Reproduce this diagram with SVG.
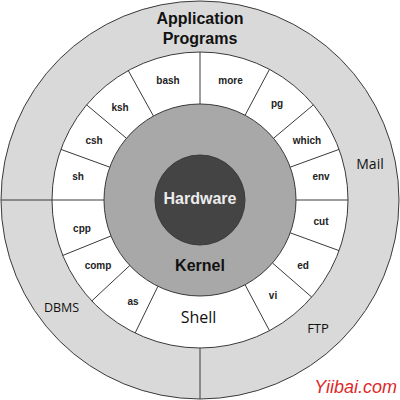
<svg xmlns="http://www.w3.org/2000/svg" width="400" height="400" viewBox="0 0 400 400">
<style>
.ring{stroke:#3a3a3a;stroke-width:1}
.div{stroke:#3a3a3a;stroke-width:1;fill:none}
.cmd{font-family:"Liberation Sans",Arial,sans-serif;font-weight:bold;font-size:10px;fill:#222;text-anchor:middle}
.big{font-family:"Liberation Sans",Arial,sans-serif;font-weight:bold;font-size:16px;text-anchor:middle}
.app{font-family:"Open Sans","Liberation Sans",sans-serif;fill:#111;text-anchor:middle}
</style>
<rect width="400" height="400" fill="#fff"/>
<g id="applications">
<circle class="ring" cx="200" cy="200" r="199" fill="#d9d9d9"/>
<text class="big" x="200" y="24" fill="#111">Application</text>
<text class="big" x="200" y="44" fill="#111">Programs</text>
<text class="app" x="370" y="169" font-size="14">Mail</text>
<text class="app" x="61.5" y="312" font-size="12.5">DBMS</text>
<text class="app" x="318" y="333" font-size="13">FTP</text>
</g>
<g id="shell">
<circle class="ring" cx="200" cy="200" r="148" fill="#fff"/>
<text class="app" x="198.5" y="323" font-size="16">Shell</text>
</g>
<g id="kernel">
<circle class="ring" cx="200" cy="200" r="96" fill="#a8a8a8"/>
<text class="big" x="200" y="271" fill="#111">Kernel</text>
</g>
<g id="hardware">
<circle class="ring" cx="200" cy="200" r="45" fill="#444"/>
<text class="big" x="200" y="204" fill="#ececec">Hardware</text>
</g>
<g id="connectors">
<line class="div" x1="200" y1="104" x2="200" y2="52"/>
<line class="div" x1="245.07" y1="115.24" x2="269.49" y2="69.33"/>
<line class="div" x1="273.54" y1="138.29" x2="313.37" y2="104.87"/>
<line class="div" x1="290.21" y1="167.17" x2="339.08" y2="149.38"/>
<line class="div" x1="296" y1="200" x2="348" y2="200"/>
<line class="div" x1="290.21" y1="232.83" x2="339.08" y2="250.62"/>
<line class="div" x1="272.45" y1="262.98" x2="311.70" y2="297.10"/>
<line class="div" x1="245.07" y1="284.76" x2="269.49" y2="330.67"/>
<line class="div" x1="157.91" y1="286.29" x2="135.12" y2="333.02"/>
<line class="div" x1="129.79" y1="265.47" x2="91.76" y2="300.94"/>
<line class="div" x1="110.99" y1="235.96" x2="62.78" y2="255.44"/>
<line class="div" x1="104" y1="200" x2="1" y2="200"/>
<line class="div" x1="109.79" y1="167.17" x2="60.92" y2="149.38"/>
<line class="div" x1="126.46" y1="138.29" x2="86.63" y2="104.87"/>
<line class="div" x1="153.46" y1="116.04" x2="128.25" y2="70.56"/>
<line class="div" x1="200" y1="348" x2="200" y2="399"/>
</g>
<g id="commands">
<text class="cmd" x="168" y="84">bash</text>
<text class="cmd" x="230.5" y="84">more</text>
<text class="cmd" x="120" y="111">ksh</text>
<text class="cmd" x="277" y="107">pg</text>
<text class="cmd" x="94" y="144">csh</text>
<text class="cmd" x="307" y="144">which</text>
<text class="cmd" x="78" y="180">sh</text>
<text class="cmd" x="321" y="180">env</text>
<text class="cmd" x="82" y="232">cpp</text>
<text class="cmd" x="321" y="225">cut</text>
<text class="cmd" x="98" y="269">comp</text>
<text class="cmd" x="303" y="269">ed</text>
<text class="cmd" x="133" y="305">as</text>
<text class="cmd" x="273" y="299">vi</text>
</g>
<text x="397" y="393" font-family="Liberation Sans,Arial,sans-serif" font-style="italic" font-size="18" fill="#dc2a2a" text-anchor="end">Yiibai.com</text>
</svg>
